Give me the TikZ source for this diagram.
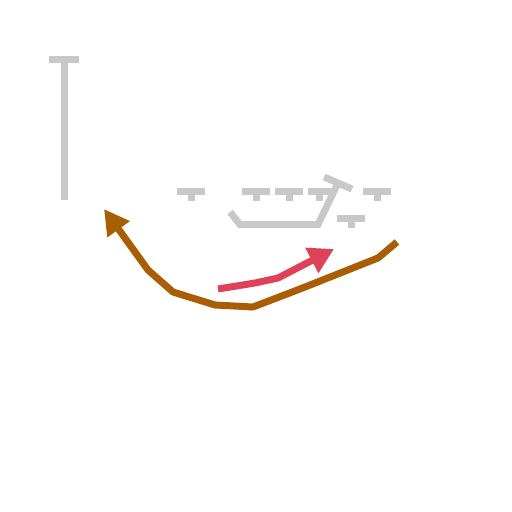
\documentclass[tikz,border=0pt]{standalone}
\usetikzlibrary{arrows.meta}
\definecolor{tgray}{RGB}{200,200,200}
\definecolor{routebrown}{RGB}{168,94,4}
\definecolor{routered}{RGB}{222,66,88}
\begin{document}
\begin{tikzpicture}[x=1pt,y=-1pt,
  blockline/.style={draw=tgray,line width=7pt,line cap=butt,line join=miter},
  routeb/.style={draw=routebrown,line width=7pt,line join=round,-{Triangle[length=25pt,width=26pt]}},
  router/.style={draw=routered,line width=7pt,line join=round,-{Triangle[length=25pt,width=27pt]}}]
\useasboundingbox (0,0) rectangle (512,512);
% tall T
\draw[blockline] (64,200) -- (64,59);
\draw[blockline] (49,59) -- (79,59);
% small T's
\foreach \cx in {191,256,289,377}{
  \draw[blockline] (\cx-14,191.5) -- (\cx+14,191.5);
  \draw[blockline] (\cx,194) -- (\cx,201);
}
\draw[blockline] (308,191.5) -- (331,191.5);
\draw[blockline] (319,194) -- (319,201);
% lower T
\draw[blockline] (337,218.5) -- (365,218.5);
\draw[blockline] (351,221) -- (351,228);
% slanted T
\draw[blockline] (324,177) -- (352,189);
\draw[blockline] (230,212) -- (240,224.5) -- (318,224.5) -- (338,183);
% brown route
\draw[routeb] (397,242) -- (378,258) -- (300,289) -- (253,307) -- (215,305) -- (173,292) -- (148,270) -- (104,209);
% red route
\draw[router] (218,289) -- (255,283) -- (278,278) -- (334,249);
\end{tikzpicture}
\end{document}
